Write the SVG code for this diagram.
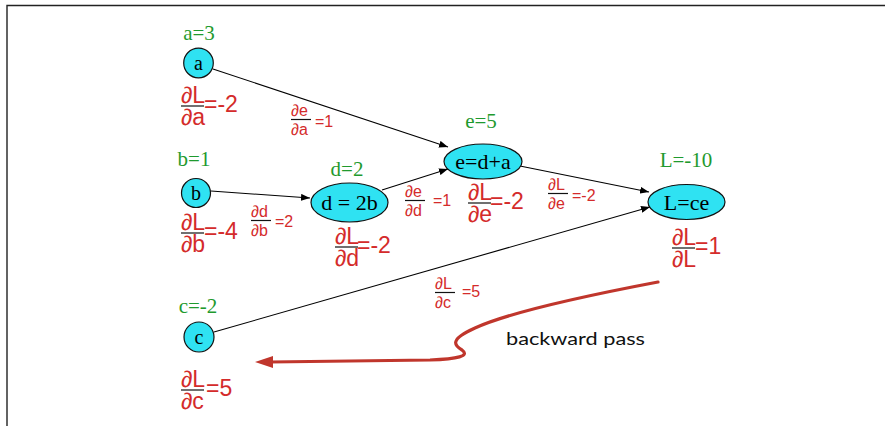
<svg xmlns="http://www.w3.org/2000/svg" width="885" height="426" viewBox="0 0 885 426">
<style>
.node{fill:#2fe2f2;stroke:#111;stroke-width:1.2}
.nt{font-family:"Liberation Serif",serif;font-size:22px;fill:#000;text-anchor:middle}
.ct{font-size:20px}
.val{font-family:"Liberation Serif",serif;font-size:21px;fill:#1f9a2e;text-anchor:middle}
.fb{font-family:"Liberation Sans","DejaVu Sans",sans-serif;font-size:23px;fill:#d42b2b}
.fs{font-family:"Liberation Sans","DejaVu Sans",sans-serif;font-size:16px;fill:#d42b2b}
.fl{stroke:#111;stroke-width:1.2}
.edge{stroke:#000;stroke-width:1.1;fill:none;marker-end:url(#ah)}
.back{stroke:#c0362c;stroke-width:3.2;fill:none;stroke-linecap:round}
.hand{font-family:Lato,"Open Sans",sans-serif;font-size:18px;fill:#111}
</style>
<defs>
<marker id="ah" viewBox="0 0 10 10" refX="10" refY="5" markerUnits="userSpaceOnUse" markerWidth="9" markerHeight="7" orient="auto" preserveAspectRatio="none">
<path d="M0,0 L10,5 L0,10 z" fill="#000"/>
</marker>
</defs>
<path d="M7,426 V5.5 H885" fill="none" stroke="#222" stroke-width="1.4"/>

<g id="connectors">
<line class="edge" x1="213" y1="69" x2="448" y2="147"/>
<line class="edge" x1="211" y1="191" x2="310" y2="198"/>
<line class="edge" x1="382" y1="190" x2="448" y2="169"/>
<line class="edge" x1="520" y1="166" x2="649" y2="192"/>
<line class="edge" x1="214" y1="332" x2="650" y2="207"/>
<path class="back" d="M658,282 C600,293 510,312 475,328 C448,340 455,346 462,350 C470,356 458,359 430,360 L270,362"/>
<polygon points="255,362 273,356 273,368" fill="#c0362c"/>
</g>

<g id="node-a">
<circle class="node" cx="198.5" cy="63" r="14.8"/>
<text class="nt ct" x="198.5" y="70">a</text>
<text class="val" x="199" y="40">a=3</text>
</g>
<g id="node-b">
<circle class="node" cx="196" cy="193" r="14.5"/>
<text class="nt ct" x="196" y="200">b</text>
<text class="val" x="194" y="166">b=1</text>
</g>
<g id="node-c">
<circle class="node" cx="199" cy="337" r="15"/>
<text class="nt ct" x="199" y="344">c</text>
<text class="val" x="198" y="313">c=-2</text>
</g>
<g id="node-d">
<ellipse class="node" cx="349.5" cy="202.5" rx="38.5" ry="19.5"/>
<text class="nt" x="349.5" y="210">d = 2b</text>
<text class="val" x="347" y="176">d=2</text>
</g>
<g id="node-e">
<ellipse class="node" cx="483" cy="161.5" rx="39" ry="17.5"/>
<text class="nt" x="483" y="169">e=d+a</text>
<text class="val" x="481" y="128">e=5</text>
</g>
<g id="node-L">
<ellipse class="node" cx="686.5" cy="202" rx="38.5" ry="17.5"/>
<text class="nt" x="686.5" y="209.5">L=ce</text>
<text class="val" x="686" y="167">L=-10</text>
</g>

<g id="node-gradients">
<g transform="translate(181,105)"><text class="fb" x="0" y="-2">∂L</text><line class="fl" x1="0" y1="1" x2="23" y2="1"/><text class="fb" x="0" y="20">∂a</text><text class="fb" x="23" y="7">=-2</text></g>
<g transform="translate(181,232)"><text class="fb" x="0" y="-2">∂L</text><line class="fl" x1="0" y1="1" x2="23" y2="1"/><text class="fb" x="0" y="20">∂b</text><text class="fb" x="23" y="7">=-4</text></g>
<g transform="translate(335,246)"><text class="fb" x="0" y="-2">∂L</text><line class="fl" x1="0" y1="1" x2="23" y2="1"/><text class="fb" x="0" y="20">∂d</text><text class="fb" x="22" y="7">=-2</text></g>
<g transform="translate(468,202)"><text class="fb" x="0" y="-2">∂L</text><line class="fl" x1="0" y1="1" x2="23" y2="1"/><text class="fb" x="0" y="20">∂e</text><text class="fb" x="22" y="7">=-2</text></g>
<g transform="translate(672,247)"><text class="fb" x="0" y="-2">∂L</text><line class="fl" x1="0" y1="1" x2="23" y2="1"/><text class="fb" x="0" y="20">∂L</text><text class="fb" x="23" y="7">=1</text></g>
<g transform="translate(181,389)"><text class="fb" x="0" y="-2">∂L</text><line class="fl" x1="0" y1="1" x2="23" y2="1"/><text class="fb" x="0" y="20">∂c</text><text class="fb" x="25" y="7">=5</text></g>
</g>

<g id="edge-gradients">
<g transform="translate(291,119)"><text class="fs" x="0" y="-3">∂e</text><line class="fl" x1="0" y1="0.5" x2="20" y2="0.5"/><text class="fs" x="0" y="16">∂a</text><text class="fs" x="24" y="8">=1</text></g>
<g transform="translate(251,220)"><text class="fs" x="0" y="-3">∂d</text><line class="fl" x1="0" y1="0.5" x2="20" y2="0.5"/><text class="fs" x="0" y="16">∂b</text><text class="fs" x="24" y="7">=2</text></g>
<g transform="translate(405,200)"><text class="fs" x="0" y="-3">∂e</text><line class="fl" x1="0" y1="0.5" x2="20" y2="0.5"/><text class="fs" x="0" y="16">∂d</text><text class="fs" x="28" y="6">=1</text></g>
<g transform="translate(548,193)"><text class="fs" x="0" y="-3">∂L</text><line class="fl" x1="0" y1="0.5" x2="20" y2="0.5"/><text class="fs" x="0" y="16">∂e</text><text class="fs" x="24" y="8">=-2</text></g>
<g transform="translate(435,292)"><text class="fs" x="0" y="-3">∂L</text><line class="fl" x1="0" y1="0.5" x2="20" y2="0.5"/><text class="fs" x="0" y="16">∂c</text><text class="fs" x="27" y="5">=5</text></g>
</g>

<text class="hand" x="506" y="345" textLength="139" lengthAdjust="spacingAndGlyphs">backward pass</text>
</svg>
